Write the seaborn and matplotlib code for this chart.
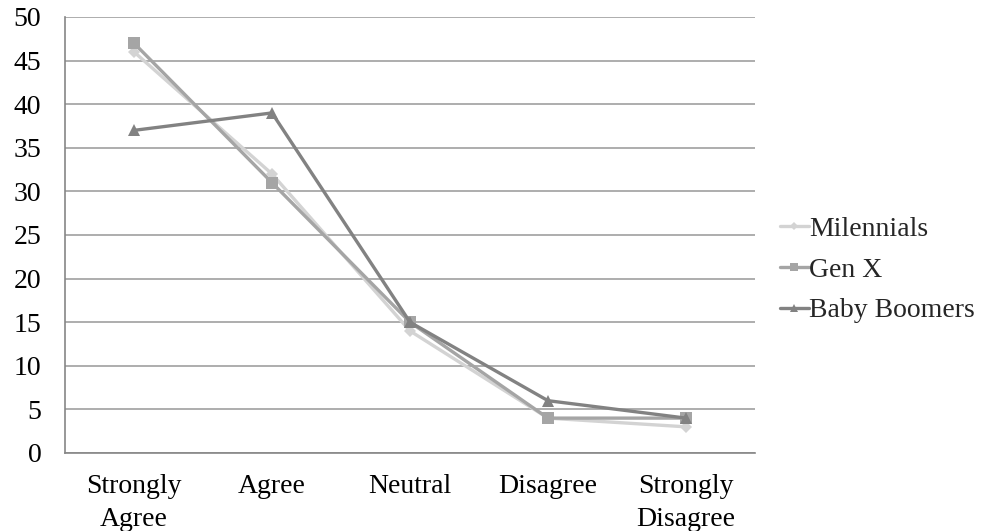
import matplotlib
matplotlib.use("Agg")
import matplotlib.pyplot as plt
import seaborn as sns
import pandas as pd
from matplotlib.ticker import FixedLocator, MultipleLocator

categories = ["Strongly\nAgree", "Agree", "Neutral", "Disagree", "Strongly\nDisagree"]
milennials = [46, 32, 14, 4, 3]
gen_x = [47, 31, 15, 4, 4]
baby_boomers = [37, 39, 15, 6, 4]
series_names = ["Milennials", "Gen X", "Baby Boomers"]

rows = []
for name, vals in zip(series_names, [milennials, gen_x, baby_boomers]):
    for i, v in enumerate(vals):
        rows.append({"pos": i, "value": v, "group": name})
df = pd.DataFrame(rows)

sns.set_theme(style="white")
plt.rcParams["font.family"] = ["Liberation Serif", "DejaVu Serif"]

fig = plt.figure(figsize=(9.82, 5.31), dpi=100)
ax = fig.add_axes([65 / 982, 1 - 453 / 531, 690 / 982, 436 / 531])

palette = {"Milennials": "#d3d3d3", "Gen X": "#a5a5a5", "Baby Boomers": "#828282"}
markers = {"Milennials": "D", "Gen X": "s", "Baby Boomers": "^"}
sizes = {"Milennials": 6, "Gen X": 8, "Baby Boomers": 8}

for name in series_names:
    sub = df[df["group"] == name]
    sns.lineplot(data=sub, x="pos", y="value", ax=ax, color=palette[name],
                 marker=markers[name], markersize=sizes[name],
                 markeredgewidth=0, linewidth=2.4, label=name)

ax.set_xlim(-0.5, 4.5)
ax.set_ylim(0, 50)
ax.yaxis.set_major_locator(MultipleLocator(5))
ax.set_xticks(range(len(categories)))
ax.set_xticklabels(categories, linespacing=1.45)
ax.xaxis.set_minor_locator(FixedLocator([-0.5, 0.5, 1.5, 2.5, 3.5, 4.5]))
ax.tick_params(axis="x", which="major", length=0, labelsize=20, pad=15, colors="black")
ax.tick_params(axis="x", which="minor", length=6, width=1, color="#868686", direction="out")
ax.tick_params(axis="y", which="major", length=7, width=1, color="#868686", direction="out",
               labelsize=20, pad=10, labelcolor="black")
ax.set_xlabel("")
ax.set_ylabel("")

ax.grid(axis="y", color="#a0a0a0", linewidth=1.2)
ax.set_axisbelow(True)
for side in ["top", "right"]:
    ax.spines[side].set_visible(False)
for side in ["left", "bottom"]:
    ax.spines[side].set_color("#868686")
    ax.spines[side].set_linewidth(1.2)

leg = ax.legend(loc="center left", bbox_to_anchor=(1.02, 0.42), frameon=False,
                fontsize=20, handlelength=1.05, handletextpad=0.0, labelspacing=0.55,
                markerscale=0.7, borderaxespad=0)

fig.savefig("out.png", dpi=100)
